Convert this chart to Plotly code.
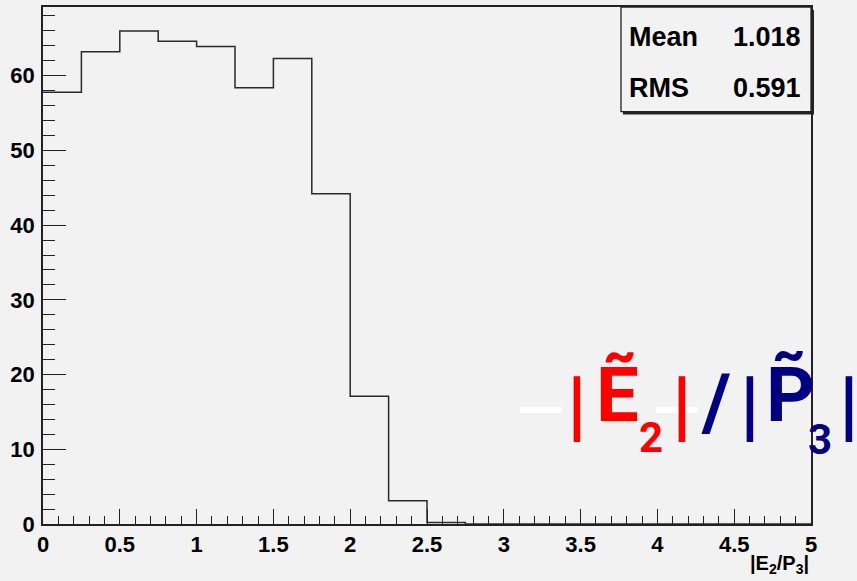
import plotly.graph_objects as go

# Histogram of |E2/P3|, 20 bins of width 0.25 on [0, 5]
bin_low_edges = [0.0, 0.25, 0.5, 0.75, 1.0, 1.25, 1.5, 1.75, 2.0, 2.25,
                 2.5, 2.75, 3.0, 3.25, 3.5, 3.75, 4.0, 4.25, 4.5, 4.75]
bin_width = 0.25
counts = [57.8, 63.2, 66.0, 64.6, 63.9, 58.4, 62.3, 44.2, 17.1, 3.1,
          0.2, 0, 0, 0, 0, 0, 0, 0, 0, 0]

stat_names = ["Mean", "RMS"]
stat_values = ["1.018", "0.591"]

y_tick_values = [0, 10, 20, 30, 40, 50, 60]

BG = "#f2f2f2"
W, H = 857, 581
ML, MR, MT, MB = 43, 46, 5, 57
PW, PH = W - ML - MR, H - MT - MB


def px(x):
    return (x - ML) / PW


def py(y):
    return (H - MB - y) / PH


# step outline: edges plus the closing right edge
step_x = bin_low_edges + [bin_low_edges[-1] + bin_width]
step_y = counts + [counts[-1]]

fig = go.Figure()
fig.add_trace(go.Scatter(
    x=step_x, y=step_y, mode="lines", line_shape="hv",
    line=dict(color="#2a2a2a", width=1.5), hoverinfo="skip", showlegend=False,
))

tick_font = dict(family="Liberation Sans, Arial, sans-serif", size=22,
                 color="black", weight="bold")

fig.update_layout(
    width=W, height=H,
    margin=dict(l=ML, r=MR, t=MT, b=MB),
    paper_bgcolor=BG, plot_bgcolor=BG,
    xaxis=dict(
        range=[0, 5], dtick=0.5, tick0=0, showgrid=False, zeroline=False,
        showline=True, linecolor="#222", linewidth=1.5, mirror=True,
        ticks="inside", ticklen=15, tickwidth=1.3, tickcolor="#222",
        tickfont=tick_font, ticklabelstandoff=0,
        minor=dict(dtick=0.1, ticks="inside", ticklen=8, tickwidth=1.3,
                   tickcolor="#222", showgrid=False),
    ),
    yaxis=dict(
        range=[0, 69.2], tickvals=y_tick_values, showgrid=False,
        zeroline=False, showline=True, linecolor="#222", linewidth=1.5,
        mirror=True, ticks="inside", ticklen=23, tickwidth=1.3,
        tickcolor="#222", tickfont=tick_font, ticklabelstandoff=2,
        minor=dict(dtick=2, ticks="inside", ticklen=12, tickwidth=1.3,
                   tickcolor="#222", showgrid=False),
    ),
)

# statistics box with shadow
fig.add_shape(type="rect", xref="paper", yref="paper",
              x0=px(623), x1=px(814), y0=py(113), y1=py(8),
              fillcolor="#222", line=dict(width=0), layer="above")
fig.add_shape(type="rect", xref="paper", yref="paper",
              x0=px(621), x1=px(811), y0=py(110), y1=py(5),
              fillcolor=BG, line=dict(color="#222", width=1.3), layer="above")

stat_font = dict(family="Liberation Sans, Arial, sans-serif", size=27,
                 color="black", weight="bold")
for i, (name, val) in enumerate(zip(stat_names, stat_values)):
    yc = 35 + 51 * i
    fig.add_annotation(xref="paper", yref="paper", x=px(627), y=py(yc),
                       text=name, showarrow=False, xanchor="left",
                       yanchor="middle", font=stat_font)
    fig.add_annotation(xref="paper", yref="paper", x=px(803), y=py(yc),
                       text=val, showarrow=False, xanchor="right",
                       yanchor="middle", font=stat_font)

# axis title at the right end of the x axis
fig.add_annotation(xref="paper", yref="paper", x=1.0, y=py(565),
                   text="|E<sub>2</sub>/P<sub>3</sub>|", showarrow=False,
                   xanchor="right", yanchor="middle",
                   font=dict(family="Liberation Sans, Arial, sans-serif",
                             size=20, color="black", weight="bold"))

# hand-drawn ratio label |Ẽ2|/|P̃3|
RED = "#ff0000"
NAVY = "#000080"
pieces = [
    ("|", 577, 405, RED, 78),
    ("\u1EBC", 617, 395, RED, 76),
    ("2", 651, 437, RED, 42),
    ("|", 682, 405, RED, 78),
    ("/", 716, 402, NAVY, 78),
    ("|", 750, 405, NAVY, 78),
    ("P\u0303", 790, 395, NAVY, 76),
    ("3", 820, 439, NAVY, 42),
    ("|", 849, 405, NAVY, 78),
]
for txt, x, y, col, size in pieces:
    fig.add_annotation(xref="paper", yref="paper", x=px(x), y=py(y),
                       text=txt, showarrow=False, xanchor="center",
                       yanchor="middle",
                       font=dict(family="Roboto, Noto Sans, sans-serif",
                                 size=size, color=col, weight="bold"))

# white strokes across the label
for x0, x1 in [(520, 562), (656, 698)]:
    fig.add_shape(type="line", xref="paper", yref="paper",
                  x0=px(x0), x1=px(x1), y0=py(409.5), y1=py(409.5),
                  line=dict(color="white", width=6), layer="above")

fig.write_html("out.html")
